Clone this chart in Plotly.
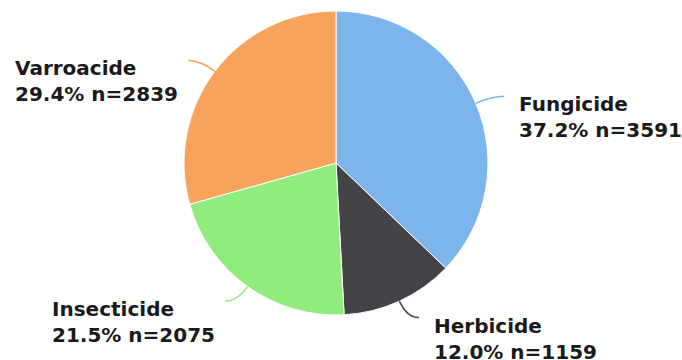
import math
import plotly.graph_objects as go

# Pesticide class counts
categories = ["Fungicide", "Herbicide", "Insecticide", "Varroacide"]
counts = [3591, 1159, 2075, 2839]
colors = ["#7cb5ec", "#434348", "#90ed7d", "#f7a35c"]

W, H = 682, 360
CX, CY, R = 336.0, 163.0, 152.0   # pie centre and radius in pixels
FONT = "DejaVu Sans"
FSIZE = 20

def px(x):
    return x / W

def py(y):
    return 1 - y / H

fig = go.Figure(
    go.Pie(
        labels=categories,
        values=counts,
        marker=dict(colors=colors, line=dict(color="#ffffff", width=1)),
        sort=False,
        direction="clockwise",
        rotation=0,
        textinfo="none",
        hoverinfo="label+percent+value",
        showlegend=False,
        domain=dict(x=[px(CX - R), px(CX + R)], y=[py(CY + R), py(CY - R)]),
    )
)

# Outside labels with curved connectors, positioned from each slice's mid-angle
total = sum(counts)
shapes, annotations = [], []
cum = 0.0
for name, val, col in zip(categories, counts, colors):
    frac = val / total
    theta = 2 * math.pi * (cum + frac / 2)
    cum += frac
    s, c = math.sin(theta), -math.cos(theta)
    side = 1 if s >= 0 else -1
    x0, y0 = CX + R * s, CY + R * c
    x1, y1 = CX + (R + 18) * s, CY + (R + 18) * c
    x2, y2 = x1 + side * 12, y1
    shapes.append(dict(
        type="path", xref="paper", yref="paper",
        path=f"M {px(x0)},{py(y0)} Q {px(x1)},{py(y1)} {px(x2)},{py(y2)}",
        line=dict(color=col, width=1.5),
    ))
    gap = 13 if side > 0 else 8
    text = f"<b>{name}</b><br><b>{100 * frac:.1f}% n={val}</b>"
    annotations.append(dict(
        xref="paper", yref="paper",
        x=px(x2 + side * gap), y=py(y2 + 21),
        xanchor="left" if side > 0 else "right", yanchor="middle",
        align="left", showarrow=False, text=text,
        font=dict(family=FONT, size=FSIZE, color="#1a1a1a"),
    ))

fig.update_layout(
    width=W, height=H,
    margin=dict(l=0, r=0, t=0, b=0),
    paper_bgcolor="#ffffff", plot_bgcolor="#ffffff",
    shapes=shapes, annotations=annotations,
)

fig.write_html("out.html")
